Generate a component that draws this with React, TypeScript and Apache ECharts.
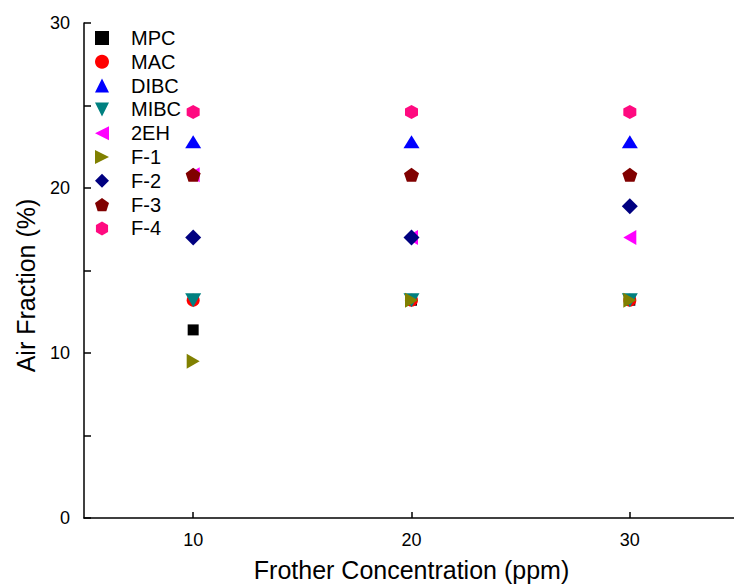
import React, { useEffect, useRef } from "react";
import * as echarts from "echarts";

const concentrations = [10, 20, 30];
const seriesNames = ["MPC", "MAC", "DIBC", "MIBC", "2EH", "F-1", "F-2", "F-3", "F-4"];
const mpc = [11.4, 13.2, 13.2];
const mac = [13.2, 13.2, 13.2];
const dibc = [22.8, 22.8, 22.8];
const mibc = [13.2, 13.2, 13.2];
const eh2 = [20.8, 17.0, 17.0];
const f1 = [9.5, 13.2, 13.2];
const f2 = [17.0, 17.0, 18.9];
const f3 = [20.8, 20.8, 20.8];
const f4 = [24.6, 24.6, 24.6];
const seriesValues = [mpc, mac, dibc, mibc, eh2, f1, f2, f3, f4];
const yTickLabels = [0, 10, 20, 30];
const xTickLabels = [10, 20, 30];

const PENTAGON = "path://M50,0 L97.55,34.55 L79.39,90.45 L20.61,90.45 L2.45,34.55 Z";
const HEXAGON = "path://M50,0 L93.3,25 L93.3,75 L50,100 L6.7,75 L6.7,25 Z";
const TRI_UP = "path://M50,0 L100,100 L0,100 Z";
const TRI_DOWN = "path://M0,0 L100,0 L50,100 Z";
const TRI_LEFT = "path://M0,50 L100,0 L100,100 Z";
const TRI_RIGHT = "path://M0,0 L100,50 L0,100 Z";

const styles = [
  { color: "#000000", symbol: "rect", size: 11 },
  { color: "#FF0000", symbol: "circle", size: 13 },
  { color: "#0000FF", symbol: TRI_UP, size: [16, 13] },
  { color: "#008080", symbol: TRI_DOWN, size: [16, 14] },
  { color: "#FF00FF", symbol: TRI_LEFT, size: [13, 15] },
  { color: "#808000", symbol: TRI_RIGHT, size: [13, 15] },
  { color: "#000080", symbol: "diamond", size: [16, 16] },
  { color: "#800000", symbol: PENTAGON, size: [15, 14] },
  { color: "#FF0A80", symbol: HEXAGON, size: [13, 14] },
];

const FONT = "Liberation Sans, Arial, sans-serif";

export default function App() {
  const ref = useRef<HTMLDivElement>(null);
  useEffect(() => {
    document.body.style.margin = "0";
    const chart = echarts.init(ref.current!, null, { renderer: "svg" });
    const series = seriesNames.map((name, i) => ({
      name,
      type: "scatter",
      data: concentrations.map((x, j) => [x, seriesValues[i][j]]),
      symbol: styles[i].symbol,
      symbolSize: styles[i].size,
      itemStyle: { color: styles[i].color, opacity: 1 },
      emphasis: { disabled: true },
      z: 2 + i,
    }));
    chart.setOption({
      animation: false,
      backgroundColor: "#ffffff",
      textStyle: { fontFamily: FONT },
      grid: { left: 84, right: -5, top: 23, bottom: 69, containLabel: false, outerBoundsMode: "none" },
      legend: {
        orient: "vertical",
        left: 95,
        top: 28,
        padding: 0,
        itemWidth: 14,
        itemHeight: 14,
        itemGap: 3.8,
        textStyle: { fontSize: 20, lineHeight: 20, color: "#000", fontFamily: FONT, padding: [0, 0, 0, 17] },
        data: seriesNames,
        selectedMode: false,
      },
      xAxis: {
        type: "value",
        min: 5,
        max: 35,
        interval: 5,
        name: "Frother Concentration (ppm)",
        nameLocation: "middle",
        nameGap: 38,
        nameTextStyle: { fontSize: 25, lineHeight: 28, color: "#000", fontFamily: FONT },
        axisLine: { show: true, onZero: false, lineStyle: { color: "#000", width: 1.5 } },
        axisTick: { show: true, inside: true, length: 6, customValues: xTickLabels, lineStyle: { color: "#000", width: 1.5 } },
        axisLabel: { fontSize: 18, color: "#000", margin: 13, customValues: xTickLabels, fontFamily: FONT },
        splitLine: { show: false },
      },
      yAxis: {
        type: "value",
        min: 0,
        max: 30,
        interval: 5,
        name: "Air Fraction (%)",
        nameLocation: "middle",
        nameGap: 46,
        nameTextStyle: { fontSize: 25, color: "#000", fontFamily: FONT, padding: [0, 30, 0, 0] },
        axisLine: { show: true, lineStyle: { color: "#000", width: 1.5 } },
        axisTick: { show: true, inside: true, length: 7, lineStyle: { color: "#000", width: 1.5 } },
        axisLabel: {
          fontSize: 18,
          color: "#000",
          margin: 14,
          fontFamily: FONT,
          formatter: (v: number) => (yTickLabels.includes(v) ? String(v) : ""),
        },
        splitLine: { show: false },
      },
      series,
    });
    return () => chart.dispose();
  }, []);
  return (
    <div
      ref={ref}
      style={{ position: "fixed", left: 0, top: 0, width: 734, height: 587, background: "#fff" }}
    />
  );
}
